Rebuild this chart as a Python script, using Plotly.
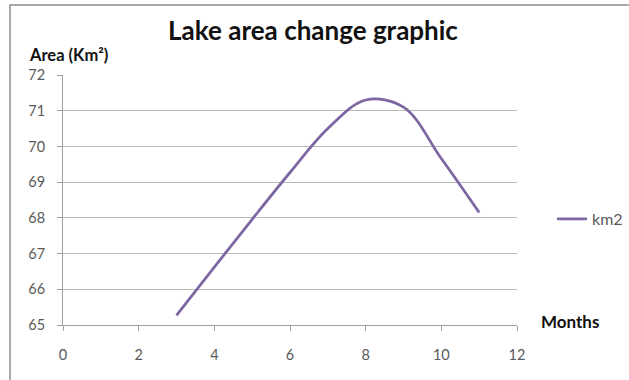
import plotly.graph_objects as go

# Monthly lake surface area (km²)
months = [3, 4, 5, 6, 7, 8, 9, 10, 11]
area_km2 = [65.27, 66.62, 67.96, 69.27, 70.5, 71.3, 71.1, 69.66, 68.15]

x_ticks = [0, 2, 4, 6, 8, 10, 12]
y_ticks = [65, 66, 67, 68, 69, 70, 71, 72]

FONT = "Lato, 'Open Sans', sans-serif"
GRID = "#bababa"
AXIS = "#a0a0a0"
TICK_TEXT = "#595959"

fig = go.Figure()
fig.add_trace(go.Scatter(
    x=months, y=area_km2, mode="lines", name="km2",
    line=dict(color="#7d66a1", width=2.75, shape="spline", smoothing=1.0),
))

fig.update_layout(
    width=629, height=380,
    margin=dict(l=63, r=112, t=75, b=55, autoexpand=False),
    paper_bgcolor="white", plot_bgcolor="white",
    font=dict(family=FONT, color=TICK_TEXT, size=14),
    title=dict(text="Lake area change graphic", x=(313 - 63) / 454, xref="paper",
               xanchor="center", y=0.92, yanchor="middle",
               font=dict(family=FONT, size=26, color="#111111", weight="bold")),
    xaxis=dict(range=[0, 12], tickvals=x_ticks, showgrid=False, zeroline=False,
               showline=True, linecolor=AXIS, linewidth=1,
               ticks="outside", ticklen=5, tickcolor=AXIS, ticklabelstandoff=12,
               tickfont=dict(family=FONT, size=14.5, color=TICK_TEXT)),
    yaxis=dict(range=[65, 72], tickvals=y_ticks, showgrid=True, gridcolor=GRID,
               gridwidth=1, zeroline=False, showline=True, linecolor=AXIS,
               linewidth=1, ticks="outside", ticklen=5, tickcolor=AXIS,
               ticklabelstandoff=9,
               tickfont=dict(family=FONT, size=14.5, color=TICK_TEXT)),
    showlegend=True,
    legend=dict(x=(552 - 63) / 454, y=(325 - 219) / 250, xanchor="left",
                yanchor="middle", bgcolor="rgba(0,0,0,0)",
                font=dict(family=FONT, size=16, color=TICK_TEXT)),
)

# Axis titles
fig.add_annotation(text="Area (Km²)", xref="paper", yref="paper",
                   x=(27 - 63) / 454, y=(325 - 55) / 250, xanchor="left",
                   yanchor="middle", showarrow=False,
                   font=dict(family=FONT, size=16.5, color="#111111", weight="bold"))
fig.add_annotation(text="Months", xref="paper", yref="paper",
                   x=(539 - 63) / 454, y=(325 - 321) / 250, xanchor="left",
                   yanchor="middle", showarrow=False,
                   font=dict(family=FONT, size=17, color="#111111", weight="bold"))

# Chart-area frame
fig.add_shape(type="rect", xref="paper", yref="paper",
              x0=(10 - 63) / 454, x1=(640 - 63) / 454,
              y0=(325 - 390) / 250, y1=(325 - 5) / 250,
              line=dict(color="#8c8c8c", width=1.5), fillcolor="rgba(0,0,0,0)",
              layer="below")

fig.write_html("out.html")
